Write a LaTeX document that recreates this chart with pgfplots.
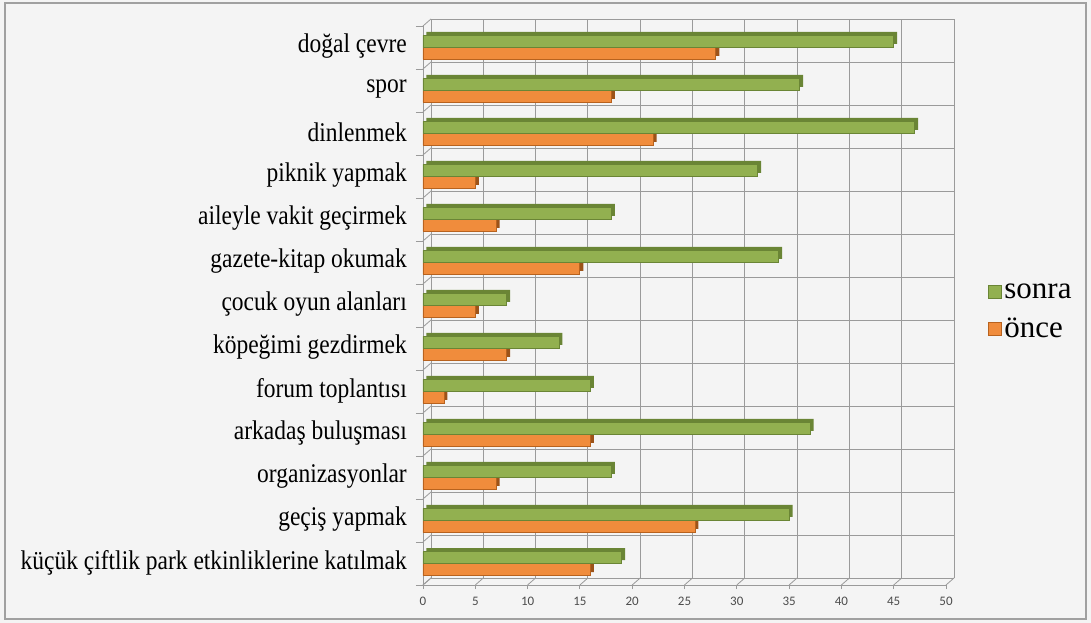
\documentclass[border=0pt]{standalone}
\usepackage{pgfplots}
\pgfplotsset{compat=1.18}
\usepackage{pgfplotstable}
\usetikzlibrary{calc,backgrounds}
\usepackage{fontspec}
\setmainfont{Liberation Serif}
\newfontfamily\labfont[FakeStretch=0.87]{Liberation Serif}
\newfontfamily\legfont{Liberation Serif}
\newfontfamily\tickfont{Carlito}
\definecolor{bg}{HTML}{F4F4F4}
\definecolor{gfill}{HTML}{92B050}
\definecolor{gdark}{HTML}{6A8535}
\definecolor{ofill}{HTML}{F08C3C}
\definecolor{odark}{HTML}{B8621E}
\definecolor{gridc}{HTML}{9A9A9A}
\definecolor{framec}{HTML}{A0A0A0}

\pgfplotstableread{
y sonra once
13 45 28
12 36 18
11 47 22
10 32 5
9 18 7
8 34 15
7 8 5
6 13 8
5 16 2
4 37 16
3 18 7
2 35 26
1 19 16
}\data

\begin{document}
\begin{tikzpicture}[x=1pt,y=1pt]
\begin{axis}[
  scale only axis,
  width=523pt, height=559pt,
  xmin=0, xmax=50, ymin=0.5, ymax=13.5,
  axis lines*=left,
  axis line style={gridc, line width=0.8pt},
  xtick={0,5,...,50},
  ytick={1,...,13},
  yticklabels={küçük çiftlik park etkinliklerine katılmak, geçiş yapmak, organizasyonlar, arkadaş buluşması, forum toplantısı, köpeğimi gezdirmek, çocuk oyun alanları, gazete-kitap okumak, aileyle vakit geçirmek, piknik yapmak, dinlenmek, spor, doğal çevre},
  minor ytick={0.5,1.5,...,13.5},
  tick align=outside,
  major x tick style={gridc, line width=0.8pt},
  major tick length=4pt,
  major y tick style={draw=none},
  minor tick length=7pt,
  minor y tick style={gridc, line width=0.8pt},
  xmajorgrids=true,
  yminorgrids=true,
  major grid style={gridc, line width=0.8pt, xshift=8pt, yshift=7pt},
  minor grid style={gridc, line width=0.8pt, xshift=8pt, yshift=7pt},
  /pgf/number format/assume math mode=true,
  xticklabel style={font=\tickfont\fontsize{13}{15}\selectfont, text=black!70, yshift=-5pt},
  yticklabel style={font=\labfont\fontsize{27}{30}\selectfont, anchor=east, inner sep=0pt, xshift=-12pt, yshift=1pt},
  legend style={at={(1.075,0.49)}, anchor=west, draw=none, fill=none,
    font=\legfont\fontsize{31}{34}\selectfont, row sep=14pt,
    /tikz/every even column/.append style={column sep=1pt}},
  legend cell align=left,
  reverse legend,
  legend image code/.code={\draw[#1, line width=1pt] (0pt,-7pt) rectangle (13pt,6pt);},
  clip=false,
]
\addplot[xbar, bar width=12pt, bar shift=-6pt, fill=odark!85!black, draw=none, xshift=3.5pt, yshift=3.5pt, forget plot] table[x=once,y=y]{\data};
\addplot[xbar, bar width=12pt, bar shift=-6pt, fill=ofill, draw=odark, line width=0.8pt] table[x=once,y=y]{\data};
\addplot[xbar, bar width=12pt, bar shift=6pt, fill=gdark, draw=none, xshift=3.5pt, yshift=3.5pt, forget plot] table[x=sonra,y=y]{\data};
\addplot[xbar, bar width=12pt, bar shift=6pt, fill=gfill, draw=gdark, line width=0.8pt] table[x=sonra,y=y]{\data};
\legend{önce, sonra}
\pgfplotsinvokeforeach{0,5,...,50}{\draw[gridc, line width=0.8pt] (axis cs:#1,0.5) -- ++(8pt,7pt);}
\pgfplotsinvokeforeach{0.5,1.5,...,13.5}{\draw[gridc, line width=0.8pt] (axis cs:0,#1) -- ++(8pt,7pt);}
\coordinate (O) at (rel axis cs:0,0);
\end{axis}
\begin{scope}[on background layer]
\fill[bg] ($(O)+(-423,-38)$) rectangle ++(1091,623);
\draw[framec, line width=1.2pt] ($(O)+(-418,-34)$) rectangle ++(1081,616);
\end{scope}
\end{tikzpicture}
\end{document}
